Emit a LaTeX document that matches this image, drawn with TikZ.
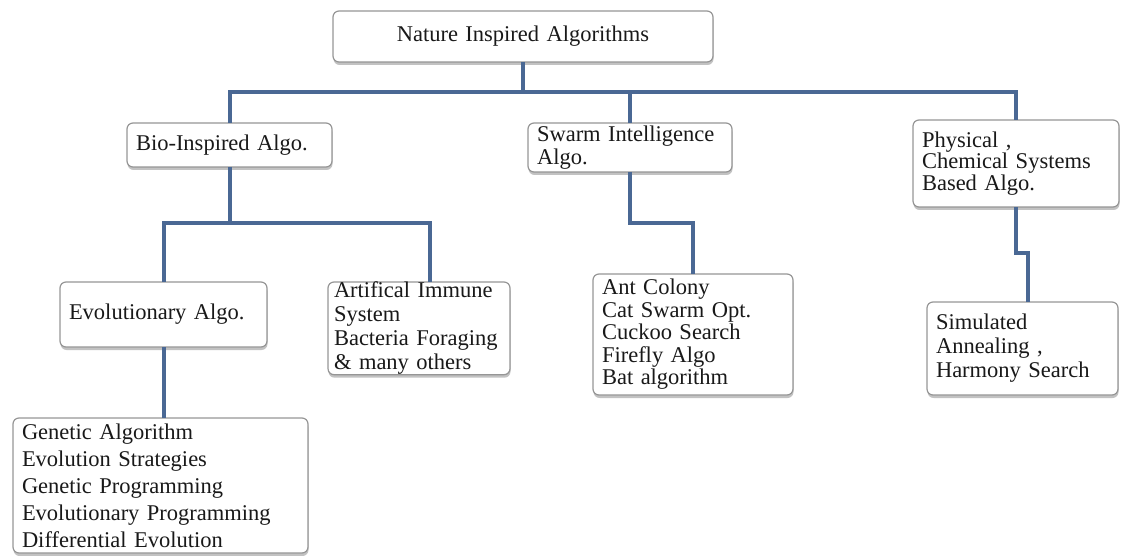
\documentclass[tikz,border=0pt]{standalone}
\usepackage{fontspec}
\setmainfont{Liberation Serif}
\usetikzlibrary{shadows}

\definecolor{linkblue}{RGB}{74,104,148}
\definecolor{boxgray}{RGB}{150,150,150}
\definecolor{textgray}{RGB}{25,25,25}

\tikzset{
  box/.style={draw=boxgray, line width=1.2pt, rounded corners=6pt, fill=white,
    drop shadow={shadow xshift=0.5pt, shadow yshift=-3pt, opacity=0.4, fill=black!60},
    inner xsep=9pt, inner ysep=0pt, outer sep=0pt, align=left, anchor=north west,
    text=textgray},
  lines/.style={font=\fontsize{22.5}{#1}\selectfont},
  link/.style={draw=linkblue, line width=4pt, line join=miter},
}

\begin{document}
\begin{tikzpicture}[x=1pt, y=-1pt]
  \useasboundingbox (0,0) rectangle (1125,556);

  % root
  \node[box, align=center, minimum width=380pt, minimum height=51pt, text width=362pt, lines=24]
    (root) at (333,11) {Nature Inspired Algorithms};

  % second level
  \node[box, minimum width=205pt, minimum height=44pt, text width=187pt, lines=24]
    (bio) at (127,123) {Bio-Inspired Algo.};
  \node[box, minimum width=204pt, minimum height=49pt, text width=186pt, lines=23]
    (swarm) at (528,123) {Swarm~Intelligence\\Algo.};
  \node[box, minimum width=206pt, minimum height=87pt, text width=188pt, lines=21.5]
    (phys) at (913,120) {Physical~,\\Chemical~Systems\\Based~Algo.};

  % third level
  \node[box, minimum width=207pt, minimum height=65pt, text width=189pt, lines=24]
    (evo) at (60,282) {Evolutionary Algo.};
  \node[box, inner xsep=6pt, minimum width=182pt, minimum height=91pt, text width=170pt, lines=24]
    (art) at (328,282) {Artifical~Immune\\System\\Bacteria~Foraging\\\&~many~others};
  \node[box, minimum width=200pt, minimum height=121pt, text width=182pt, lines=22.5]
    (ant) at (593,274) {Ant~Colony\\Cat~Swarm~Opt.\\Cuckoo~Search\\Firefly~Algo\\Bat~algorithm};
  \node[box, minimum width=191pt, minimum height=93pt, text width=173pt, lines=24]
    (sim) at (927,302) {Simulated\\Annealing~,\\Harmony~Search};

  % leaf list
  \node[box, minimum width=295pt, minimum height=135pt, text width=277pt, lines=27]
    (gen) at (13,418) {Genetic~Algorithm\\Evolution~Strategies\\Genetic~Programming\\Evolutionary~Programming\\Differential~Evolution};

  % bus levels and entry points
  \coordinate (bus1) at (0,92);
  \coordinate (bus2) at (0,223);
  \coordinate (jog) at (0,253);
  \coordinate (artin) at (430,282);
  \coordinate (simin) at (1028,302);

  % connectors
  \draw[link] (root.south) -- (root.south |- bus1);
  \draw[link] (bio.north) -- (bio.north |- bus1) -- (phys.north |- bus1) -- (phys.north);
  \draw[link] (swarm.north) -- (swarm.north |- bus1);

  \draw[link] (bio.south) -- (bio.south |- bus2);
  \draw[link] (evo.north) -- (evo.north |- bus2) -- (artin |- bus2) -- (artin);
  \draw[link] (evo.south) -- (evo.south |- gen.north);

  \draw[link] (swarm.south) -- (swarm.south |- bus2) -| (ant.north);
  \draw[link] (phys.south) -- (phys.south |- jog) -| (simin);
\end{tikzpicture}
\end{document}
